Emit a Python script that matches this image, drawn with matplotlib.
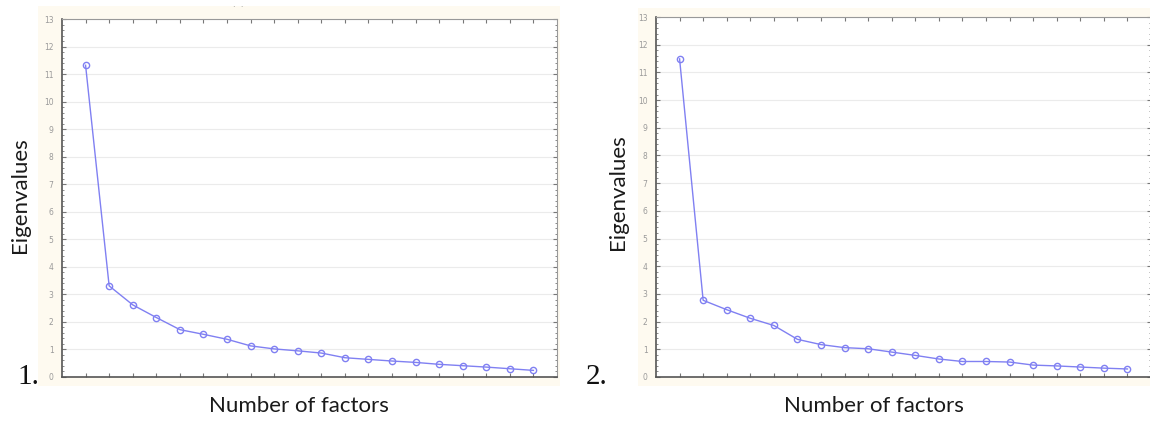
import numpy as np
import matplotlib
matplotlib.use("Agg")
import matplotlib.pyplot as plt
from matplotlib.patches import Rectangle
from matplotlib.ticker import MultipleLocator

# Scree plot data
factors = list(range(1, 21))
eig_1 = [11.32, 3.31, 2.62, 2.16, 1.72, 1.55, 1.37, 1.13, 1.02, 0.95,
         0.87, 0.70, 0.64, 0.58, 0.53, 0.46, 0.41, 0.36, 0.30, 0.24]
eig_2 = [11.49, 2.77, 2.43, 2.12, 1.86, 1.36, 1.17, 1.06, 1.02, 0.90,
         0.78, 0.65, 0.56, 0.56, 0.54, 0.43, 0.40, 0.36, 0.32, 0.29]
panel_labels = ["1.", "2."]
y_ticks = list(range(0, 14))

line_col = "#8080f2"
cream = "#fefaf0"

fig = plt.figure(figsize=(11.5, 4.23), dpi=100)

W, H = 1150.0, 423.0

def px_box(x0, y0, x1, y1):
    # pixel box (top-left origin) -> figure fraction [l, b, w, h]
    return [x0 / W, 1 - y1 / H, (x1 - x0) / W, (y1 - y0) / H]

panels = [
    dict(data=eig_1, box=(62, 19, 557, 377), bg=(38, 6, 560, 386),
         ylab=(20, 195), xlab=(299, 406), num=(17, 377)),
    dict(data=eig_2, box=(656, 17, 1151, 377), bg=(638, 8, 1150, 386),
         ylab=(618, 192), xlab=(874, 406), num=(586, 377)),
]

for i, p in enumerate(panels):
    bx = p["bg"]
    fig.patches.append(Rectangle((bx[0] / W, 1 - bx[3] / H), (bx[2] - bx[0]) / W,
                                 (bx[3] - bx[1]) / H, transform=fig.transFigure,
                                 facecolor=cream, edgecolor="none", zorder=-5))
    ax = fig.add_axes(px_box(*p["box"]))
    ax.set_zorder(2)
    ax.set_facecolor("white")
    ax.plot(factors, p["data"], color=line_col, lw=1.0, marker="o", ms=4.5,
            mfc="none", mec=line_col, mew=1.0, zorder=3)
    ax.set_xlim(0, 21)
    ax.set_ylim(0, 13)
    ax.set_xticks(factors)
    ax.set_xticklabels([])
    ax.set_yticks(y_ticks)
    ax.set_yticklabels([str(t) for t in y_ticks])
    ax.yaxis.set_minor_locator(MultipleLocator(0.2))
    ax.grid(axis="y", which="major", color="#ebebeb", lw=0.8, zorder=0)
    ax.tick_params(axis="both", which="both", direction="in", top=True, right=True,
                   colors="#777777", labelcolor="#9a9a9a", labelsize=5.5)
    ax.tick_params(axis="both", which="major", length=3, width=0.8)
    ax.tick_params(axis="both", which="minor", length=1.5, width=0.6)
    ax.tick_params(axis="y", pad=6)
    for side in ["left", "bottom"]:
        ax.spines[side].set_color("#555555")
        ax.spines[side].set_linewidth(1.2)
    for side in ["top", "right"]:
        ax.spines[side].set_color("#999999")
        ax.spines[side].set_linewidth(0.8)

    fig.text(p["ylab"][0] / W, 1 - p["ylab"][1] / H, "Eigenvalues", rotation=90,
             ha="center", va="center", fontsize=16, family="Lato", color="#1a1a1a")
    fig.text(p["xlab"][0] / W, 1 - p["xlab"][1] / H, "Number of factors",
             ha="center", va="center", fontsize=16, family="Lato", color="#1a1a1a")
    fig.text(p["num"][0] / W, 1 - p["num"][1] / H, panel_labels[i],
             ha="left", va="center", fontsize=21, family="Liberation Serif", color="#111111")

fig.text(238 / W, 1 - 8 / H, "\u00b7  \u00b7", ha="center", va="center",
         fontsize=6, color="#888888")

fig.savefig("out.png", dpi=100)
